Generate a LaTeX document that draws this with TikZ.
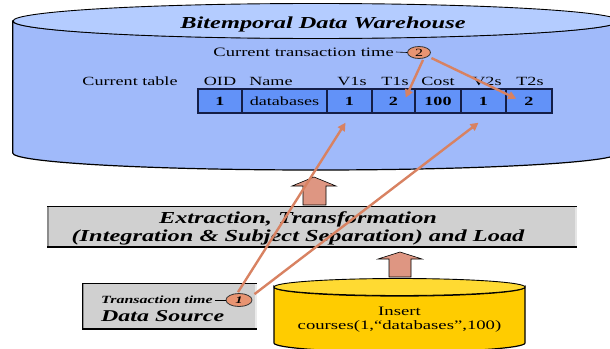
\documentclass[tikz,border=0pt]{standalone}
\usepackage{fontspec}
\setmainfont{Liberation Serif}[FakeStretch=1.45]
\usetikzlibrary{arrows.meta,shapes.geometric,calc}
\definecolor{cylbody}{RGB}{160,186,250}
\definecolor{cyltop}{RGB}{180,204,255}
\definecolor{cellfill}{RGB}{98,146,248}
\definecolor{cellline}{RGB}{20,30,70}
\definecolor{orangeln}{RGB}{216,130,98}
\definecolor{badge}{RGB}{232,148,114}
\definecolor{boxgray}{RGB}{208,208,208}
\definecolor{fatarrow}{RGB}{222,150,130}
\definecolor{ybody}{RGB}{255,204,0}
\definecolor{ytop}{RGB}{255,218,50}
\tikzset{
  cellbox/.style={draw=cellline, line width=1.4pt, fill=cellfill, minimum height=24, inner sep=0pt, font=\fontsize{12.5}{12.5}\selectfont},
  hdr/.style={font=\fontsize{12.5}{12.5}\selectfont, inner sep=0pt},
  badgenode/.style={ellipse, draw=black!80, line width=0.8pt, fill=badge, inner sep=0pt},
  linkarrow/.style={draw=orangeln, line width=2.4pt, -{Triangle[length=8pt,width=8pt]}},
  fatarr/.style={fill=fatarrow, draw=black, line width=0.6pt},
}
\begin{document}
\begin{tikzpicture}[x=1pt,y=-1pt]
\useasboundingbox (0,0) rectangle (610,348);
\clip (0,0) rectangle (610,348);
% big cylinder
\path[fill=cylbody, draw=black, line width=1.2pt] (12.7,21) -- (12.7,153)
  arc[start angle=180, end angle=0, x radius=303, y radius=17] -- (619,21)
  arc[start angle=0, end angle=180, x radius=303, y radius=17] -- cycle;
\draw[fill=cyltop, line width=0.9pt] (316,21) ellipse[x radius=303, y radius=17.5];
\node[inner sep=0pt, font=\fontsize{16.8}{16.8}\selectfont\bfseries\itshape] (title) at (323,24) {Bitemporal Data Warehouse};
% current transaction time
\node[hdr, anchor=east, font=\fontsize{12.8}{12.8}\selectfont] (ctt) at (394,52) {Current transaction time};
\node[badgenode, minimum width=23, minimum height=12, font=\fontsize{11}{11}\selectfont] (b2) at (419,52.5) {2};
\draw[line width=0.6pt] (ctt.east) ++(2,0) -- (b2.west);
% headers
\node[hdr] (ct) at (130,81) {Current table};
\node[hdr] (hOID) at (220,81) {OID};
\node[hdr] (hName) at (271,81) {Name};
\node[hdr] (hV1) at (352,81) {V1s};
\node[hdr] (hT1) at (395,81) {T1s};
\node[hdr] (hCost) at (438,81) {Cost};
\node[hdr] (hV2) at (487,81) {V2s};
\node[hdr] (hT2) at (530,81) {T2s};
% cells
\node[cellbox, minimum width=44] (cOID) at (220,101) {\bfseries 1};
\node[cellbox, minimum width=85] (cName) at (284.5,101) {databases};
\node[cellbox, minimum width=45] (cV1) at (349.5,101) {\bfseries 1};
\node[cellbox, minimum width=43] (cT1) at (393.5,101) {\bfseries 2};
\node[cellbox, minimum width=46] (cCost) at (438,101) {\bfseries 100};
\node[cellbox, minimum width=45] (cV2) at (483.5,101) {\bfseries 1};
\node[cellbox, minimum width=46] (cT2) at (529,101) {\bfseries 2};
% ETL box
\path[fill=boxgray] (47,206) rectangle (577,247);
\draw[line width=1pt] (47,206) -- (577,206);
\draw[line width=1.4pt] (47,247) -- (577,247);
\draw[line width=2pt, black!45] (48,207) -- (48,246);
\draw[line width=2pt, black!10] (576,207) -- (576,246);
\node[align=center, inner sep=0pt, font=\fontsize{16.8}{17.5}\selectfont\bfseries\itshape] (etl) at (298,228.5)
  {Extraction, Transformation\\(Integration \& Subject Separation) and Load};
% data source box
\path[fill=boxgray] (82,283) rectangle (257,329);
\draw[line width=1pt] (82,283) -- (257,283);
\draw[line width=1.6pt] (82,329) -- (257,329);
\draw[line width=2pt, black!45] (83,284) -- (83,328);
\draw[line width=1pt] (82,283) -- (82,329);
\draw[line width=2pt, black!8] (256,284) -- (256,328);
\node[anchor=west, inner sep=0pt, font=\fontsize{11}{11}\selectfont\bfseries\itshape] (tt) at (101,300) {Transaction time};
\node[anchor=west, inner sep=0pt, font=\fontsize{16.5}{16.5}\selectfont\bfseries\itshape] (ds) at (101,316) {Data Source};
\node[badgenode, minimum width=26, minimum height=13, font=\fontsize{10}{10}\selectfont\bfseries\itshape] (b1) at (239,300) {1};
\draw[line width=0.6pt] (tt.east) ++(2,0) -- (b1.west);
% yellow cylinder
\path[fill=ybody, draw=black, line width=1.2pt] (274,287) -- (274,343)
  arc[start angle=180, end angle=0, x radius=125.5, y radius=9] -- (525,287)
  arc[start angle=0, end angle=180, x radius=125.5, y radius=9] -- cycle;
\draw[fill=ytop, line width=0.9pt] (399.5,287) ellipse[x radius=125.5, y radius=8.5];
\node[align=center, inner sep=0pt, font=\fontsize{12.9}{14}\selectfont] (ins) at (399.5,320)
  {Insert\\courses(1,“databases”,100)};
% fat arrows
\draw[fatarr] (303,205) -- (303,186) -- (292,186) -- (314,177) -- (336,186) -- (326,186) -- (326,205) -- cycle;
\draw[fatarr] (389,277) -- (389,259) -- (378,259) -- (400,252) -- (422,259) -- (411,259) -- (411,277) -- cycle;
% link arrows
\coordinate (eT1) at ($(cT1.south east)+(-10,-16)$);
\coordinate (eT2) at ($(cT2.south west)+(11,-15)$);
\coordinate (eV1) at ($(cV1.south)+(-4,9)$);
\coordinate (eV2) at ($(cV2.south)+(-5,9)$);
\draw[linkarrow] ($(b2.south)+(4,1)$) -- (eT1);
\draw[linkarrow] ($(b2.south east)+(4,1)$) -- (eT2);
\draw[linkarrow] ($(b1.north)+(-1,-1)$) -- (eV1);
\draw[linkarrow] ($(b1.north east)+(6,-1)$) -- (eV2);
\end{tikzpicture}
\end{document}
